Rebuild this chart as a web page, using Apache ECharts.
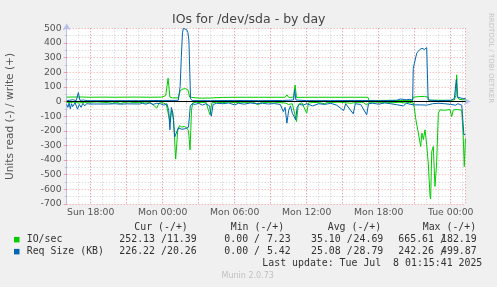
<!DOCTYPE html>
<html><head><meta charset="utf-8">
<script src="https://cdn.jsdelivr.net/npm/echarts@6/dist/echarts.min.js"></script>
<style>html,body{margin:0;padding:0;background:#f0f0f0}#c{width:497px;height:287px}</style>
</head><body><div id="c"></div><script>
// time in hours since Sun 00:00; read values are positive magnitudes (drawn below zero)
const ioRead = [[16.0,5],[16.3,8],[16.6,4],[17.0,10],[17.5,6],[18.0,5],[18.5,3],[19.0,5],[19.5,8],[19.8,12],[20.1,4],[20.5,14],[20.8,6],[21.2,3],[21.6,8],[22.0,5],[22.5,10],[23.0,8],[23.3,30],[23.5,45],[23.7,10],[24.0,8],[24.3,20],[24.45,25],[24.6,137],[24.75,60],[24.9,120],[25.08,393],[25.25,200],[25.4,165],[25.6,175],[25.8,170],[26.0,180],[26.15,200],[26.28,330],[26.4,60],[26.5,10],[26.8,5],[27.2,8],[27.6,5],[27.94,90],[28.1,8],[28.5,5],[29.0,7],[29.5,4],[30.0,8],[30.5,5],[31.0,6],[31.5,4],[32.0,23],[32.2,5],[32.7,6],[33.2,4],[33.7,7],[34.2,10],[34.5,20],[34.8,15],[35.15,137],[35.3,20],[35.6,8],[36.0,80],[36.15,10],[36.6,6],[37.0,8],[37.5,15],[37.7,5],[38.2,6],[38.7,4],[39.2,8],[39.7,12],[40.2,5],[40.7,6],[41.0,23],[41.2,5],[41.7,4],[42.2,6],[42.7,5],[43.2,8],[43.7,5],[44.2,10],[44.6,6],[44.88,10],[44.96,40],[45.1,125],[45.27,200],[45.5,307],[45.6,216],[45.72,260],[45.86,193],[46.0,296],[46.13,420],[46.28,648],[46.33,665.61],[46.42,341],[46.55,307],[46.69,580],[46.83,420],[46.97,80],[47.11,57],[47.5,60],[47.94,55],[48.08,103],[48.22,57],[48.6,55],[48.92,60],[49.05,250],[49.13,444],[49.23,252.13]];
const ioWrite = [[16.0,30],[17.0,31],[18.0,29],[19.0,30],[20.0,29],[21.0,30],[22.0,30],[23.0,29],[23.9,30],[24.25,40],[24.45,159],[24.6,30],[24.8,25],[25.3,25],[25.45,70],[25.6,84],[25.9,88],[26.1,80],[26.25,30],[26.4,24],[27.0,23],[28.0,24],[29.0,28],[30.0,29],[31.0,29],[32.0,29],[33.0,29],[34.2,29],[34.36,45],[34.5,28],[34.9,30],[35.03,113],[35.15,28],[36.0,29],[37.0,29],[38.0,29],[39.0,29],[40.0,29],[41.1,29],[41.2,7],[42.0,7.5],[43.0,8],[44.0,7.23],[44.8,8],[44.9,30],[45.3,33],[45.8,35],[46.1,30],[46.2,8],[47.0,9],[48.0,8],[48.3,10],[48.42,40],[48.5,182.19],[48.58,30],[48.7,15],[49.0,12],[49.23,11.39]];
const reqRead = [[16.0,20],[16.1,40],[16.2,10],[16.3,50],[16.4,15],[16.5,35],[16.6,45],[16.7,8],[16.8,30],[16.9,52],[17.05,20],[17.2,40],[17.35,12],[17.5,30],[17.65,15],[17.8,25],[17.95,17],[19.5,17],[20.0,15],[20.5,18],[21.0,16],[22.1,17],[22.3,12],[22.6,18],[22.9,10],[23.2,20],[23.5,12],[23.8,15],[24.1,25],[24.35,15],[24.5,60],[24.6,193],[24.72,40],[24.85,80],[25.0,242.26],[25.12,230],[25.3,180],[25.6,190],[25.9,185],[26.15,175],[26.3,30],[26.45,15],[26.7,20],[27.0,12],[27.3,25],[27.6,15],[27.9,30],[28.05,100],[28.2,20],[28.5,12],[29.0,15],[29.5,10],[30.0,23],[30.3,12],[30.8,18],[31.3,10],[31.8,15],[32.3,12],[32.8,17],[33.3,14],[33.8,20],[34.05,69],[34.2,40],[34.35,148],[34.5,60],[34.65,30],[34.8,80],[34.95,103],[35.08,125],[35.2,40],[35.4,20],[35.7,25],[36.0,15],[36.5,30],[37.0,15],[37.5,20],[38.0,12],[38.5,25],[39.08,62],[39.25,15],[39.88,84],[40.05,15],[40.5,20],[41.0,91],[41.15,15],[41.5,12],[42.0,18],[42.5,10],[43.0,15],[43.5,22],[44.05,30],[44.3,12],[44.6,18],[44.9,23],[45.5,23],[46.0,25],[46.5,15],[47.0,12],[47.5,15],[48.0,20],[48.4,25],[48.6,15],[48.92,25],[49.1,227],[49.23,226.22]];
const reqWrite = [[16.0,5],[16.2,8],[16.5,12],[16.8,6],[16.97,61],[17.1,8],[17.4,10],[17.7,6],[18.0,6],[20.0,6],[22.0,6],[24.0,7],[25.3,8],[25.45,100],[25.55,300],[25.65,470],[25.72,499.87],[25.85,497],[26.0,490],[26.1,470],[26.18,420],[26.24,410],[26.32,20],[26.45,6],[28.0,6],[30.0,7],[32.0,6],[34.0,7],[34.9,10],[35.0,80],[35.1,10],[36.0,6],[38.0,6],[40.0,7],[42.0,6],[43.5,8],[43.8,17],[44.3,12],[44.6,15],[44.83,8],[44.88,227],[45.17,330],[45.38,351],[45.6,364],[45.8,355],[46.0,368],[46.05,362],[46.12,10],[46.25,6],[47.0,6],[48.0,8],[48.3,20],[48.4,25],[48.47,150],[48.55,30],[48.7,25],[49.0,20],[49.23,20.26]];

const tickHours = [18,24,30,36,42,48];
const tickLabels = ['Sun 18:00','Mon 00:00','Mon 06:00','Mon 12:00','Mon 18:00','Tue 00:00'];

const legendNames = ['IO/sec','Req Size (KB)'];
const legendColors = ['#00cc00','#0066b3'];
const curVals = [[252.13,11.39],[226.22,20.26]];
const minVals = [[0.00,7.23],[0.00,5.42]];
const avgVals = [[35.10,24.69],[25.08,28.79]];
const maxVals = [[665.61,182.19],[242.26,499.87]];
const colHeaders = ['Cur (-/+)','Min (-/+)','Avg (-/+)','Max (-/+)'];
const lastUpdate = 'Last update: Tue Jul  8 01:15:41 2025';

const GREEN = legendColors[0], BLUE = legendColors[1];
const neg = a => a.map(p => [p[0], -p[1]]);
const AX = '#b8c0ee';
const RED = 'rgba(255,60,60,0.45)';
const GRAY = 'rgba(150,150,150,0.45)';
const lf = 'DejaVu Sans';
const mono = 'DejaVu Sans Mono';

const chart = echarts.init(document.getElementById('c'), null, {renderer:'canvas'});

const gl = [];
gl.push({type:'text', x:248.7, y:20, style:{text:'IOs for /dev/sda - by day', font:'12.5px "DejaVu Sans"', fill:'#444', align:'center', verticalAlign:'middle'}});
gl.push({type:'text', x:10, y:116.5, rotation:Math.PI/2, style:{text:'Units read (-) / write (+)', font:'10.6px "DejaVu Sans"', fill:'#555', align:'center', verticalAlign:'middle'}});
gl.push({type:'text', x:491, y:58, rotation:-Math.PI/2, style:{text:'RRDTOOL / TOBI OETIKER', font:'7px "DejaVu Sans"', fill:'#c4c4c4', align:'center', verticalAlign:'middle'}});
const colStart = [119.3,224.3,311,398.3];
const colEnd = [196.7,290.7,383.3,476.7];
const hdrX = [134.3,230.7,327.7,422.7];
const rowY = [239.7,251.7];
const FS = 9.9;
colHeaders.forEach((h,i)=>gl.push({type:'text', x:hdrX[i], y:227.7, style:{text:h, font:FS+'px "DejaVu Sans Mono"', fill:'#333', verticalAlign:'middle'}}));
const groups = [curVals,minVals,avgVals,maxVals];
legendNames.forEach((n,r)=>{
  gl.push({type:'rect', shape:{x:14, y:rowY[r]-2.8, width:5.5, height:5.5}, style:{fill:legendColors[r]}});
  gl.push({type:'text', x:26.7, y:rowY[r], style:{text:n, font:FS+'px "DejaVu Sans Mono"', fill:'#333', verticalAlign:'middle'}});
  groups.forEach((g,c)=>{
    gl.push({type:'text', x:colStart[c], y:rowY[r], style:{text:g[r][0].toFixed(2)+' /', font:FS+'px "DejaVu Sans Mono"', fill:'#333', verticalAlign:'middle'}});
    gl.push({type:'text', x:colEnd[c], y:rowY[r], style:{text:g[r][1].toFixed(2), font:FS+'px "DejaVu Sans Mono"', fill:'#333', align:'right', verticalAlign:'middle'}});
  });
});
gl.push({type:'text', x:482.3, y:263.7, style:{text:lastUpdate, font:FS+'px "DejaVu Sans Mono"', fill:'#333', align:'right', verticalAlign:'middle'}});
gl.push({type:'text', x:247.7, y:276, style:{text:'Munin 2.0.73', font:'8px "DejaVu Sans"', fill:'#c0c0c0', align:'center', verticalAlign:'middle'}});

const lineS = (name, data, color, extra) => Object.assign({
  type:'line', name, data, xAxisIndex:0, yAxisIndex:0, showSymbol:false, symbol:'none',
  lineStyle:{color, width:1}, itemStyle:{color}, animation:false, silent:true
}, extra||{});

chart.setOption({
  backgroundColor:'#f0f0f0',
  animation:false,
  grid:[
    {left:66.7, top:28.3, width:399, height:175.7, show:true, backgroundColor:'#ffffff', borderWidth:0},
    {left:90.7, top:28.3, width:375, height:175.7, show:false}
  ],
  xAxis:[
    {type:'value', gridIndex:0, min:16, max:49.25, interval:1,
     axisLine:{show:true, lineStyle:{color:AX, width:1}, symbol:['none','arrow'], symbolSize:[6,7], symbolOffset:[0,5]},
     axisTick:{show:true, length:2, lineStyle:{color:GRAY}},
     axisLabel:{show:false},
     splitLine:{show:true, lineStyle:{color:GRAY, type:[1,2], width:1}}},
    {type:'value', gridIndex:1, min:18, max:49.25, interval:3,
     axisLine:{show:false},
     axisTick:{show:true, length:2, lineStyle:{color:RED}},
     axisLabel:{show:true, margin:4, fontFamily:lf, fontSize:9.3, color:'#555',
       formatter:v=>{const i=tickHours.indexOf(Math.round(v*100)/100); return i>=0?tickLabels[i]:'';}},
     splitLine:{show:true, lineStyle:{color:RED, type:[1,2], width:1}}}
  ],
  yAxis:[
    {type:'value', gridIndex:0, min:-700, max:500, interval:100,
     axisLine:{show:true, lineStyle:{color:AX, width:1}, symbol:['none','arrow'], symbolSize:[6,7], symbolOffset:[0,5]},
     axisTick:{show:true, length:3, lineStyle:{color:RED}},
     minorTick:{show:true, splitNumber:2, length:2, lineStyle:{color:GRAY}},
     axisLabel:{margin:5, fontFamily:lf, fontSize:9.3, color:'#555'},
     splitLine:{show:true, lineStyle:{color:RED, type:[1,2], width:1}},
     minorSplitLine:{show:true, lineStyle:{color:GRAY, type:[1,2], width:1}}},
    {type:'value', gridIndex:1, min:-700, max:500, show:false, splitLine:{show:false}}
  ],
  graphic:{elements:gl},
  series:[
    lineS('IO read', neg(ioRead), GREEN),
    lineS('IO write', ioWrite, GREEN),
    lineS('Req read', neg(reqRead), BLUE),
    lineS('Req write', reqWrite, BLUE, {markLine:{silent:true, symbol:'none', label:{show:false}, animation:false,
      lineStyle:{color:'#000', type:'solid', width:1}, data:[{yAxis:0}]}})
  ]
});
</script></body></html>
